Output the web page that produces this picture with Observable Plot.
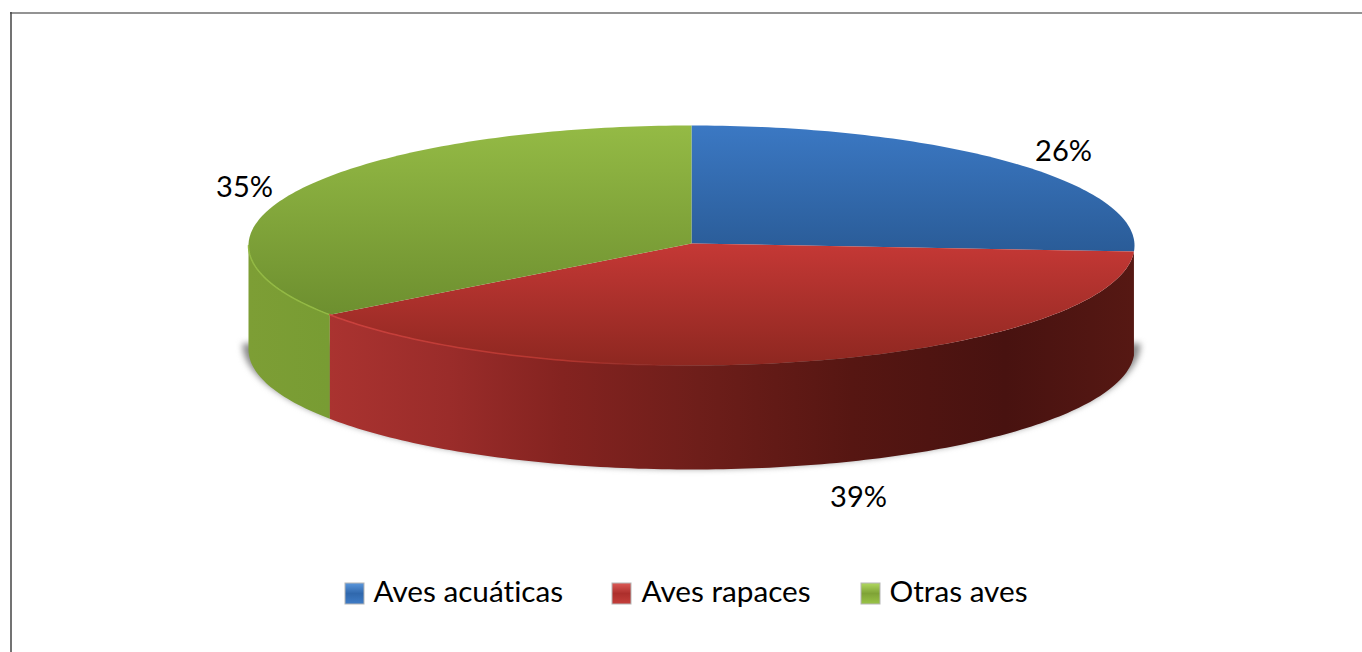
<!DOCTYPE html>
<html>
<head>
<meta charset="utf-8">
<style>html,body{margin:0;padding:0;background:#fff;overflow:hidden}svg{display:block}svg text{font-variant-ligatures:none}</style>
<script src="https://cdn.jsdelivr.net/npm/d3@7"></script>
<script src="https://cdn.jsdelivr.net/npm/@observablehq/plot@0.6"></script>
</head>
<body>
<script>
// Data: slice sizes; the labels show them rounded
const categories = ["Aves acuáticas", "Aves rapaces", "Otras aves"];
const shares = [25.8, 39.4, 34.8];

// Layout and styling, kept apart from the data
const W = 1362, H = 652;
const cx = 691, cy = 245, rx = 443, ry = 120, depth = 104;
const labelX = [1063, 858, 244];
const labelY = [151, 497, 187];
const legendSwatchX = [345, 612, 861];
const legendTextX = [373, 641, 889];
const ids = ["blue", "red", "green"];

const sum = d3.sum(shares);
const ends = d3.cumsum(shares).map(v => (v / sum) * 360);
const starts = [0, ...ends.slice(0, -1)];

const pt = (deg, dy = 0, grow = 0, growY = 0) => {
  const a = deg * Math.PI / 180;
  return {x: cx + (rx + grow) * Math.sin(a), y: cy + dy - (ry + growY) * Math.cos(a)};
};
const arc = (a0, a1, dy = 0, grow = 0, growY = 0) =>
  d3.range(a0, a1, 1).concat(a1).map(a => pt(a, dy, grow, growY));

const wedge = i => [{x: cx, y: cy - 2}, ...arc(starts[i], ends[i])];
const side = (a0, a1) => [...arc(a0, a1), ...arc(a0, a1, depth).reverse()];

const shadow = arc(90, 270, depth - 6, 6, 5);

const stops = (id, attrs, list) => {
  const g = document.createElementNS("http://www.w3.org/2000/svg", "linearGradient");
  g.setAttribute("id", id);
  for (const k in attrs) g.setAttribute(k, attrs[k]);
  for (const [o, c, op] of list) {
    const s = document.createElementNS("http://www.w3.org/2000/svg", "stop");
    s.setAttribute("offset", o);
    s.setAttribute("stop-color", c);
    if (op != null) s.setAttribute("stop-opacity", op);
    g.appendChild(s);
  }
  return g;
};
const user = (x1, y1, x2, y2) => ({gradientUnits: "userSpaceOnUse", x1, y1, x2, y2});

const defsMark = () => {
  const d = document.createElementNS("http://www.w3.org/2000/svg", "defs");
  d.append(
    stops("top-blue", user(0, 126, 0, 250), [[0, "#3b78c3"], [1, "#2a5c98"]]),
    stops("top-red", user(0, 245, 0, 366), [[0, "#c43835"], [1, "#8d2720"]]),
    stops("top-green", user(0, 126, 0, 315), [[0, "#94ba45"], [1, "#6d8f2f"]]),
    stops("side-green", user(248, 0, 328, 0), [[0, "#7d9e35"], [1, "#789c33"]]),
    stops("side-red", user(328, 0, 1134, 0), [
      [0, "#aa3330"], [0.15, "#9a2c2a"], [0.29, "#842320"], [0.46, "#6e1e1a"],
      [0.65, "#561612"], [0.84, "#481210"], [1, "#561813"]
    ]),
    stops("rim-red", user(328, 0, 720, 0), [[0, "#cc423e"], [0.6, "#b5362f"], [1, "#8a2420", 0]]),
    stops("sw-blue", {x1: 0, y1: 0, x2: 0, y2: 1}, [[0, "#5b97dc"], [0.5, "#3068ad"], [1, "#3f7cc6"]]),
    stops("sw-red", {x1: 0, y1: 0, x2: 0, y2: 1}, [[0, "#dc5a56"], [0.5, "#ad2f2c"], [1, "#c43f3b"]]),
    stops("sw-green", {x1: 0, y1: 0, x2: 0, y2: 1}, [[0, "#b0d860"], [0.5, "#7fa336"], [1, "#9ac447"]])
  );
  return d;
};

const poly = (points, fill, extra = {}) =>
  Plot.line(points, {x: "x", y: "y", fill, stroke: "none", ...extra});

const idx = categories.map((_, i) => i);
const text = {fontFamily: "Lato", fill: "#000"};

const chart = Plot.plot({
  width: W, height: H,
  margin: 0,
  x: {domain: [0, W], range: [0, W], axis: null},
  y: {domain: [0, H], range: [0, H], axis: null},
  style: {background: "#fff"},
  marks: [
    defsMark,
    Plot.ruleY([12.5], {x1: 10, x2: W, stroke: "#6f6f6f", strokeWidth: 1.5}),
    Plot.ruleX([10.5], {y1: 12, y2: H, stroke: "#444", strokeWidth: 1.5}),
    poly(shadow, "#8a8a8a", {imageFilter: "blur(3px)"}),
    poly(side(starts[2], 270), "url(#side-green)"),
    poly(side(starts[1], ends[1]), "url(#side-red)"),
    ...idx.map(i => poly(wedge(i), `url(#top-${ids[i]})`)),
    Plot.line(arc(starts[2], 270), {x: "x", y: "y", stroke: "#93b944", strokeWidth: 1.5}),
    Plot.line(arc(starts[1] + 50, ends[1]), {x: "x", y: "y", stroke: "url(#rim-red)", strokeWidth: 1.5}),
    Plot.text(idx, {
      x: i => labelX[i], y: i => labelY[i],
      text: i => `${Math.round(shares[i])}%`,
      textAnchor: "middle", lineAnchor: "middle", fontSize: 29, ...text
    }),
    Plot.rect(idx, {
      x1: i => legendSwatchX[i], x2: i => legendSwatchX[i] + 19,
      y1: 583, y2: 604,
      fill: i => `url(#sw-${ids[i]})`,
      stroke: "#b5b5b5", strokeWidth: 1, imageFilter: "blur(0.5px)"
    }),
    Plot.text(idx, {
      x: i => legendTextX[i], y: 592,
      text: i => categories[i],
      textAnchor: "start", lineAnchor: "middle", fontSize: 29.7, ...text
    })
  ]
});
document.body.appendChild(chart);
</script>
</body>
</html>
